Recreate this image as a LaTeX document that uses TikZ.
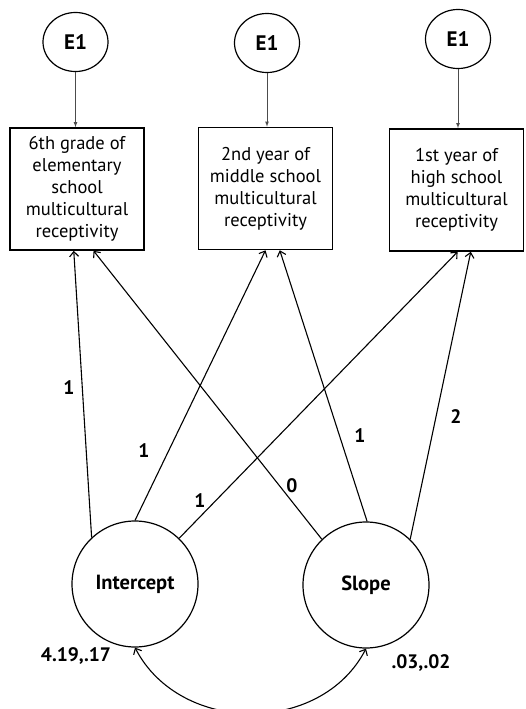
\documentclass[tikz,border=0pt]{standalone}
\usepackage{fontspec}
\setmainfont{PT Sans}
\usetikzlibrary{arrows,arrows.meta,positioning,shapes.geometric}

\begin{document}
\begin{tikzpicture}
[x=1pt,y=-1pt,>={Straight Barb[length=5pt,width=9pt]},
 err/.style={ellipse,draw,line width=1.2pt,minimum width=65pt,minimum height=59pt,inner sep=0pt,font=\bfseries\fontsize{21}{21}\selectfont},
 obs/.style={rectangle,draw,line width=1.6pt,minimum width=134pt,minimum height=122pt,inner sep=0pt,align=center,font=\fontsize{18.5}{22}\selectfont},
 lat/.style={circle,draw,line width=1.2pt,minimum size=126pt,inner sep=0pt,font=\bfseries\fontsize{20.5}{20.5}\selectfont},
 lbl/.style={font=\bfseries\fontsize{19.5}{19.5}\selectfont}]
\useasboundingbox (0,0) rectangle (525,709);
\clip (0,0) rectangle (525,709);
\node[err] (e1) at (75.5,42) {E1};
\node[err] (e2) at (267,43) {E1};
\node[err] (e3) at (458,39) {E1};
\node[obs] (m1) at (77,189) {6th grade of\\elementary\\school\\multicultural\\receptivity};
\node[obs] (m2) at (265.5,188.5) {2nd year of\\middle school\\multicultural\\receptivity};
\node[obs] (m3) at (456.5,190) {1st year of\\high school\\multicultural\\receptivity};
\node[lat] (icpt) at (135,584) {Intercept};
\node[lat] (slope) at (366,585) {Slope};
\draw[-latex,line width=0.8pt,black!70] (e1) -- (e1 |- m1.north);
\draw[-latex,line width=0.8pt,black!70] (e2) -- (e2 |- m2.north);
\draw[-latex,line width=0.8pt,black!70] (e3) -- (e3 |- m3.north);
\draw[->,line width=1.1pt] (icpt.133) -- (m1.267);
\draw[->,line width=1.1pt] (icpt.90) -- (m2.270);
\draw[->,line width=1.1pt] (icpt.46) -- (m3.271);
\draw[->,line width=1.1pt] (slope.134) -- (m1.285);
\draw[->,line width=1.1pt] (slope.89) -- (m2.283);
\draw[->,line width=1.1pt] (slope.46) -- (m3.283);
\node[lbl] (w1) at (69,388) {1};
\node[lbl] (w2) at (144,451) {1};
\node[lbl] (w3) at (200,501) {1};
\node[lbl] (w4) at (292,486) {0};
\node[lbl] (w5) at (360,436) {1};
\node[lbl] (w6) at (456,417) {2};
\node[lbl] (v1) at (76,656) {4.19,.17};
\node[lbl] (v2) at (421,663) {.03,.02};
\draw[<->,line width=1.1pt] (icpt.south) .. controls +(45,87) and +(-45,87) .. (slope.south);
\end{tikzpicture}
\end{document}
